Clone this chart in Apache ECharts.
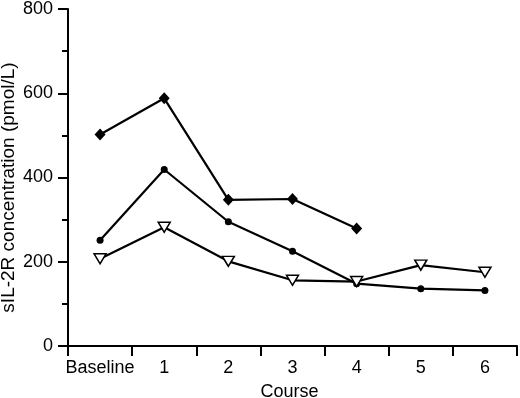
<!DOCTYPE html>
<html>
<head>
<meta charset="utf-8">
<script src="https://cdn.jsdelivr.net/npm/echarts@6/dist/echarts.min.js"></script>
<style>html,body{margin:0;padding:0;background:#fff;}#c{width:520px;height:398px;}</style>
</head>
<body>
<div id="c"></div>
<script>
var categories = ['Baseline', '1', '2', '3', '4', '5', '6'];
var diamondSeries = [502, 588, 347, 349, 279, null, null];
var circleSeries = [251, 419, 295, 225, 148, 136, 132];
var triangleSeries = [207, 282, 201, 156, 153, 192, 175];
var yTicks = [0, 200, 400, 600, 800];

var FONT = '"Liberation Sans", Arial, Helvetica, sans-serif';
var chart = echarts.init(document.getElementById('c'), null, {renderer: 'canvas'});
chart.setOption({
  animation: false,
  backgroundColor: '#fff',
  grid: {left: 68, right: 3, top: 9, bottom: 52, containLabel: false, outerBoundsMode: 'none'},
  xAxis: {
    type: 'category',
    data: categories,
    boundaryGap: true,
    name: 'Course',
    nameLocation: 'middle',
    nameGap: 37,
    nameMoveOverlap: false,
    nameTextStyle: {color: '#000', fontSize: 18, fontFamily: FONT, padding: [0, 6, 0, 0]},
    axisLine: {lineStyle: {color: '#000', width: 2}},
    axisTick: {show: true, alignWithLabel: false, length: 10, lineStyle: {color: '#000', width: 2}},
    axisLabel: {color: '#000', fontSize: 18, fontFamily: FONT, margin: 13, interval: 0},
    splitLine: {show: false}
  },
  yAxis: {
    type: 'value',
    min: yTicks[0],
    max: yTicks[yTicks.length - 1],
    interval: 200,
    name: 'sIL-2R concentration (pmol/L)',
    nameLocation: 'middle',
    nameGap: 50,
    nameMoveOverlap: false,
    nameTextStyle: {color: '#000', fontSize: 19, fontFamily: FONT, padding: [0, 20, 0, 0]},
    axisLine: {show: true, lineStyle: {color: '#000', width: 2}},
    axisTick: {show: true, length: 10, lineStyle: {color: '#000', width: 2}},
    minorTick: {show: true, splitNumber: 2, length: 6, lineStyle: {color: '#000', width: 2}},
    axisLabel: {color: '#000', fontSize: 18, fontFamily: FONT, margin: 15},
    splitLine: {show: false}
  },
  series: [
    {
      type: 'line', data: diamondSeries, symbol: 'diamond', symbolSize: [11, 12],
      lineStyle: {color: '#000', width: 2.2}, itemStyle: {color: '#000'}, connectNulls: false
    },
    {
      type: 'line', data: circleSeries, symbol: 'circle', symbolSize: 7,
      lineStyle: {color: '#000', width: 2.2}, itemStyle: {color: '#000'}
    },
    {
      type: 'line', data: triangleSeries, symbol: 'triangle', symbolRotate: 180, symbolSize: [12, 10],
      lineStyle: {color: '#000', width: 2.2}, itemStyle: {color: '#fff', borderColor: '#000', borderWidth: 1.5}
    }
  ]
});
</script>
</body>
</html>
